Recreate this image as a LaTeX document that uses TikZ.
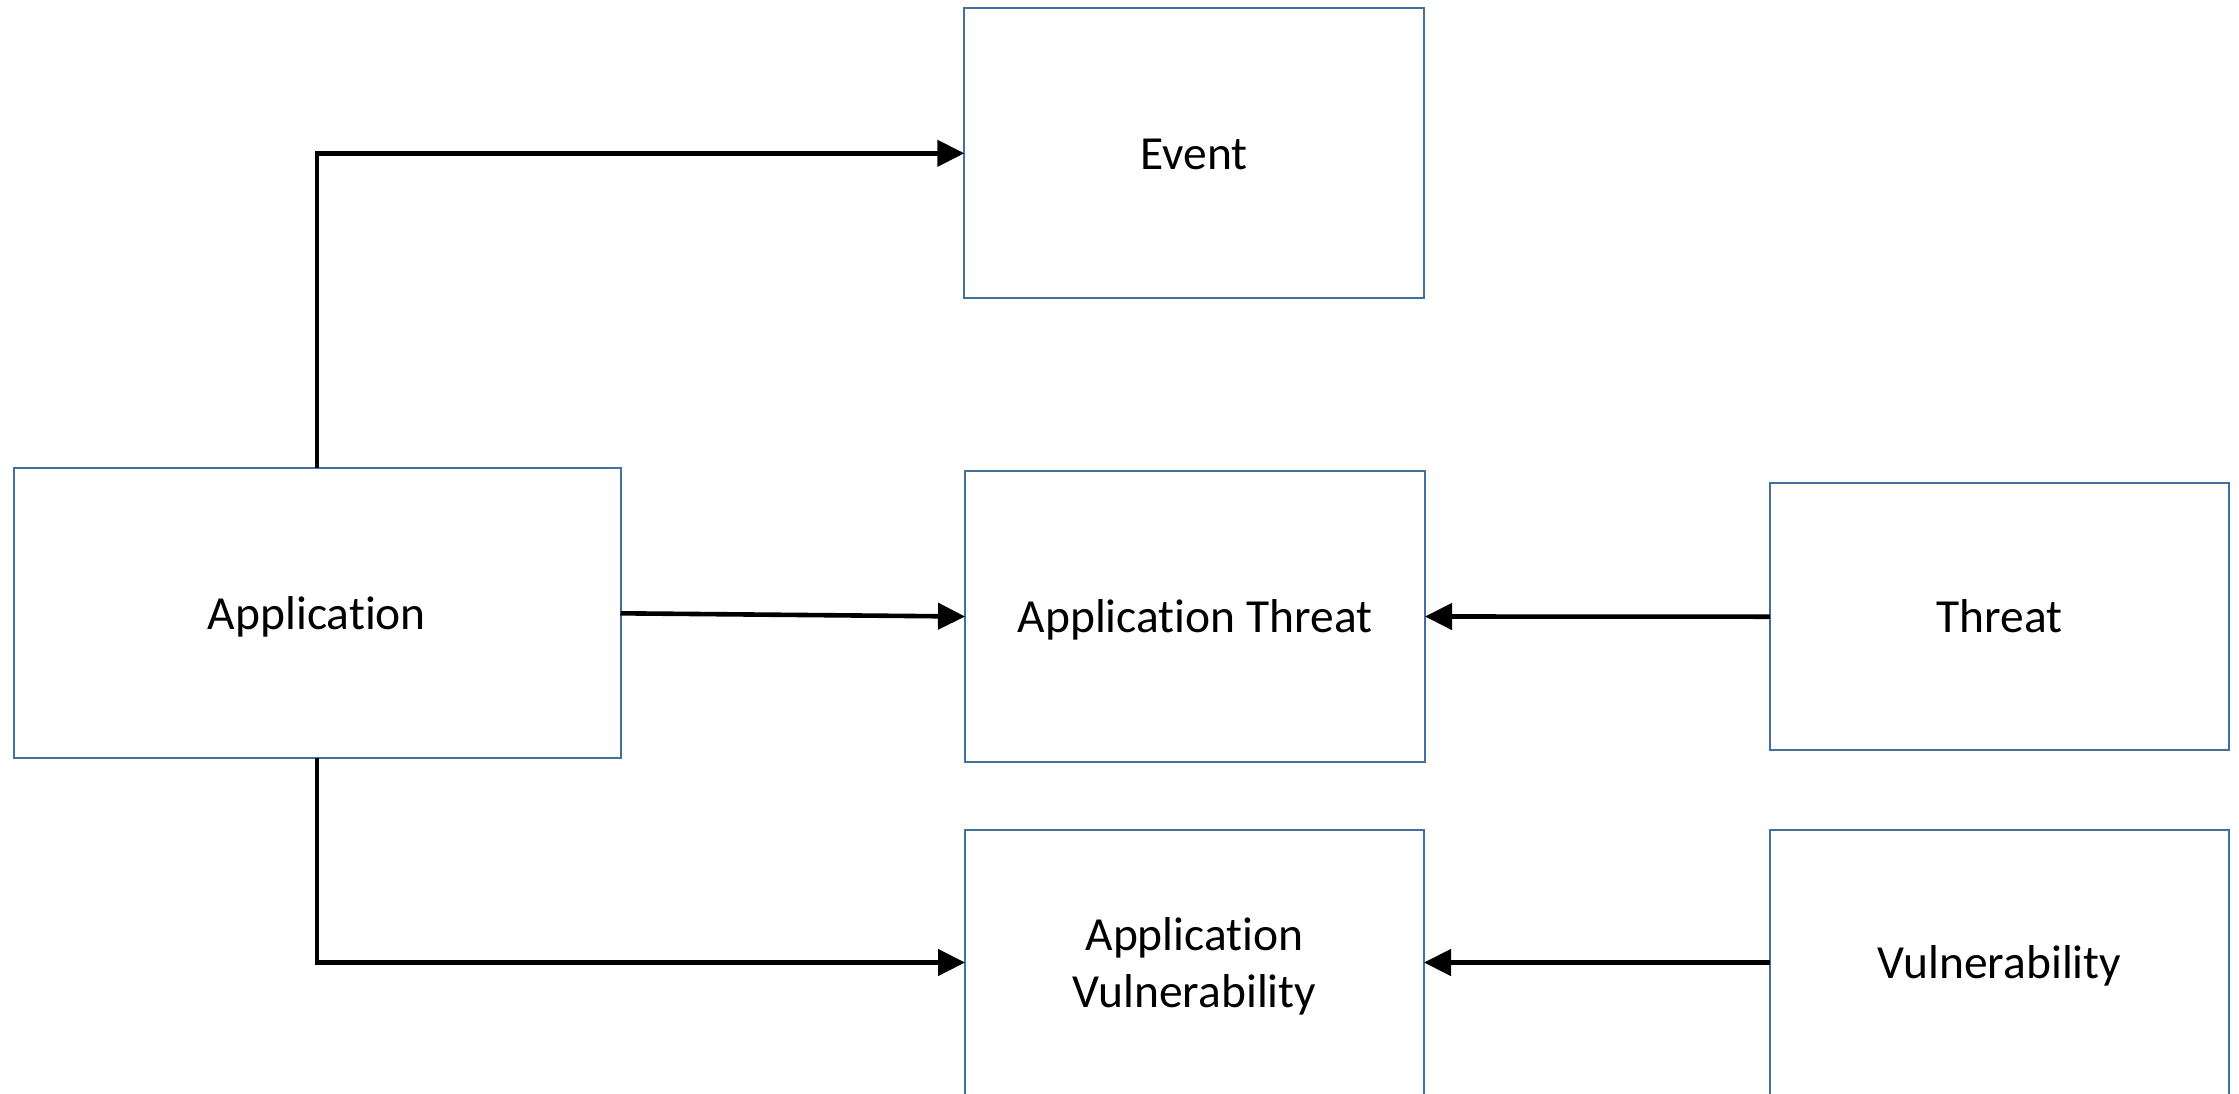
\documentclass[tikz,border=0pt]{standalone}
\usepackage{fontspec}
\setmainfont{Carlito}[Ligatures=NoCommon]
\usetikzlibrary{arrows.meta}
\definecolor{boxblue}{HTML}{41719C}
\newcommand\tstrut{\rule{0pt}{0.952em}}
\newcommand\bstrut{\rule[-0.269em]{0pt}{0.269em}}
\begin{document}
\begin{tikzpicture}[x=1pt,y=-1pt,
  box/.style={draw=boxblue, line width=2pt, fill=white, rectangle, inner sep=0pt, outer sep=0pt,
    align=center, font=\fontsize{47.5}{57}\selectfont},
  conn/.style={line width=4.6pt, -{Triangle[length=27pt,width=26pt]}}]
\useasboundingbox (0,0) rectangle (2239,1093);
\clip (0,0) rectangle (2239,1093);
\fill[white] (0,0) rectangle (2239,1093);
\node[box, minimum width=460pt, minimum height=290pt] (event) at (1194.3,153.3) {\tstrut Event\bstrut};
\node[box, minimum width=607pt, minimum height=290pt] (app) at (317,613.3) {\tstrut Application\bstrut};
\node[box, minimum width=460pt, minimum height=291pt] (appthreat) at (1195,616.5) {\tstrut Application Threat\bstrut};
\node[box, minimum width=459pt, minimum height=267pt] (threat) at (1999.5,616.7) {\tstrut Threat\bstrut};
\node[box, minimum width=459pt, minimum height=265pt] (appvuln) at (1194.5,962.5) {\tstrut Application\\Vulnerability\bstrut};
\node[box, minimum width=459pt, minimum height=265pt] (vuln) at (1999.5,962.5) {\tstrut Vulnerability\bstrut};
\draw[conn] (app.north) |- (event.west);
\draw[conn] (app.east) -- (appthreat.west);
\draw[conn] (app.south) |- (appvuln.west);
\draw[conn] (threat.west) -- (appthreat.east);
\draw[conn] (vuln.west) -- (appvuln.east);
\end{tikzpicture}
\end{document}
